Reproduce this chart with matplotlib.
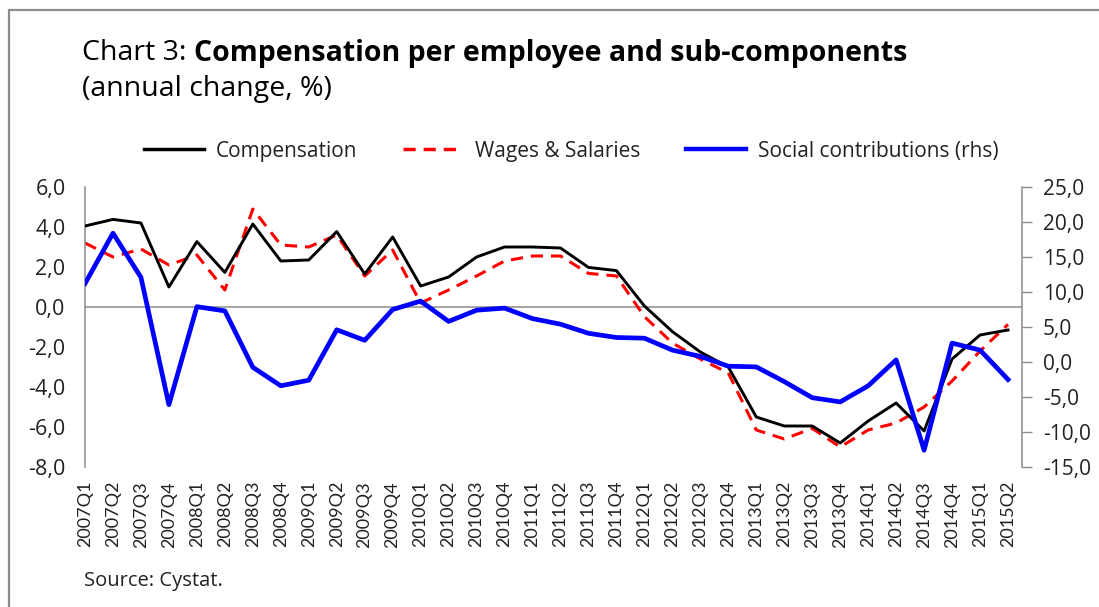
import matplotlib
matplotlib.use("Agg")
import matplotlib.pyplot as plt
from matplotlib.ticker import FuncFormatter, FixedLocator
from matplotlib.lines import Line2D
from matplotlib.patches import Rectangle

quarters = [f"{y}Q{q}" for y in range(2007, 2016) for q in range(1, 5)][:34]

compensation = [4.05, 4.38, 4.2, 1.0, 3.27, 1.73, 4.15, 2.3, 2.35, 3.77, 1.65,
                3.5, 1.05, 1.5, 2.5, 3.0, 3.0, 2.95, 1.98, 1.82, 0.05, -1.23,
                -2.25, -3.0, -5.5, -5.95, -5.95, -6.8, -5.7, -4.8, -6.2, -2.6,
                -1.4, -1.15]
wages = [3.2, 2.5, 2.9, 2.1, 2.6, 0.85, 4.9, 3.1, 3.0, 3.6, 1.55,
         2.85, 0.2, 0.85, 1.55, 2.3, 2.55, 2.55, 1.68, 1.55, -0.48, -1.8,
         -2.6, -3.3, -6.15, -6.6, -6.07, -7.0, -6.15, -5.8, -5.0, -3.7,
         -2.2, -0.87]
social = [11.2, 18.4, 12.1, -6.1, 7.9, 7.3, -0.76, -3.4, -2.6, 4.6, 3.1,
          7.5, 8.7, 5.8, 7.4, 7.7, 6.2, 5.4, 4.1, 3.5, 3.4, 1.7,
          0.8, -0.6, -0.7, -2.8, -5.1, -5.7, -3.4, 0.3, -12.6, 2.7,
          1.7, -2.5]

left_ticks = [-8, -6, -4, -2, 0, 2, 4, 6]
right_ticks = [-15, -10, -5, 0, 5, 10, 15, 20, 25]

WIDE = "Open Sans"
plt.rcParams['font.family'] = ["Lato", 'DejaVu Sans']

fig = plt.figure(figsize=(10.99, 6.07), dpi=100)
fig.patch.set_facecolor("white")

# outer frame
fig.add_artist(Rectangle((9/1099, -0.1), 1.2, 1 - 10/607 + 0.1, transform=fig.transFigure,
                         fill=False, edgecolor="#8c8c8c", linewidth=1.6))

ax = fig.add_axes([85/1099, 1 - 467/607, (1022 - 85)/1099, 280/607])
ax2 = ax.twinx()

x = list(range(len(quarters)))
gray = "#8c8c8c"

ax.axhline(0, color=gray, linewidth=1.1, zorder=1)
ax.plot(x, compensation, color="black", linewidth=2.1, zorder=3)
ax.plot(x, wages, color="#ff0000", linewidth=2.2, dashes=(4, 2.6), zorder=2)
ax2.plot(x, social, color="#0000ff", linewidth=3.4, zorder=3)

ax.set_xlim(0, 33.5)
ax.set_ylim(-8, 6)
ax2.set_ylim(-15, 25)

fmt = FuncFormatter(lambda v, p: f"{v:.1f}".replace(".", ","))
ax.yaxis.set_major_locator(FixedLocator(left_ticks))
ax.yaxis.set_major_formatter(fmt)
ax2.yaxis.set_major_locator(FixedLocator(right_ticks))
ax2.yaxis.set_major_formatter(fmt)

ax.set_xticks(x)
ax.set_xticklabels(quarters, rotation=90, fontsize=13, color="#222222")
ax.tick_params(axis="x", length=0, pad=10)
ax.tick_params(axis="y", length=0, pad=14, labelsize=15.5, labelcolor="#222222")
ax2.tick_params(axis="y", length=7, width=1, color=gray, direction="out", pad=8,
                labelsize=15, labelcolor="#222222")
for lab in ax.get_yticklabels() + ax2.get_yticklabels():
    lab.set_fontfamily(WIDE)

for a in (ax, ax2):
    a.spines["top"].set_visible(False)
    a.spines["bottom"].set_visible(False)
    a.spines["left"].set_color(gray)
    a.spines["right"].set_color(gray)
    a.spines["left"].set_linewidth(1.1)
    a.spines["right"].set_linewidth(1.1)
    a.patch.set_visible(False)
ax2.spines["left"].set_visible(False)
ax.spines["right"].set_visible(False)

# title
TS = 20.5
t1 = fig.text(82/1099, 1 - 53/607, "Chart 3: ", fontsize=TS, va="center", ha="left",
              color="black", family=WIDE)
fig.canvas.draw()
bb = t1.get_window_extent()
fig.text(bb.x1 / fig.bbox.width, 1 - 53/607, "Compensation per employee and sub-components",
         fontsize=TS, fontweight="bold", va="center", ha="left", color="black", family=WIDE)
fig.text(82/1099, 1 - 89/607, "(annual change, %)", fontsize=TS, va="center", ha="left",
         color="black", family=WIDE)

# legend
handles = [Line2D([], [], color="black", linewidth=2.5),
           Line2D([], [], color="#ff0000", linewidth=2.5, dashes=(3.5, 2.3)),
           Line2D([], [], color="#0000ff", linewidth=3.2)]
labels = ["Compensation", "Wages & Salaries", "Social contributions (rhs)"]
fig.legend(handles, labels, loc="center", bbox_to_anchor=(571/1099, 1 - 151/607), ncol=3,
           frameon=False, handlelength=2.9, handletextpad=0.55, columnspacing=2.2,
           labelcolor="#222222", prop={"family": WIDE, "size": 15})

fig.text(84/1099, 1 - 581/607, "Source: Cystat.", fontsize=14.5, va="center", ha="left",
         color="#222222", family=WIDE)

fig.savefig("out.png", dpi=100)
